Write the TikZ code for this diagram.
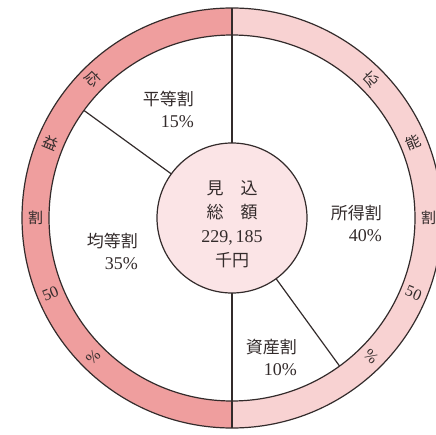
\documentclass[tikz,border=0pt]{standalone}
\usepackage{fontspec}
\usetikzlibrary{calc}
\setmainfont{Liberation Serif}
\newfontfamily\jp{Noto Sans CJK JP}
\newcommand\bignum[1]{{\fontsize{18}{22}\selectfont #1}}
\definecolor{ringL}{HTML}{EF9E9E}
\definecolor{ringR}{HTML}{F8D2D2}
\definecolor{core}{HTML}{FBE4E6}
\definecolor{ink}{HTML}{332B2B}
\begin{document}
\begin{tikzpicture}[x=1pt,y=1pt,
  disc/.style={circle,inner sep=0pt,outer sep=0pt},
  edge/.style={draw=ink,line width=1.2pt},
  lbl/.style={text=ink,font=\fontsize{17}{22}\selectfont,align=right,inner sep=0pt},
  ctr/.style={text=ink,font=\fontsize{17}{24}\selectfont,align=center,inner sep=0pt},
  ringtxt/.style={text=ink,font=\fontsize{15}{15}\selectfont,inner sep=0pt},
  ringnum/.style={text=ink,font=\fontsize{16}{16}\selectfont,inner sep=0pt}]
\useasboundingbox (0,0) rectangle (436,434);
\coordinate (O) at (232,216);
% ring halves
\fill[ringL] (232,426) arc[start angle=90,end angle=270,radius=210]
  -- (232,33) arc[start angle=270,end angle=90,radius=183] -- cycle;
\fill[ringR] (232,426) arc[start angle=90,end angle=-90,radius=210]
  -- (232,33) arc[start angle=-90,end angle=90,radius=183] -- cycle;
\node[disc,edge,minimum size=420pt] (outer) at (O) {};
\node[disc,edge,minimum size=366pt] (inner) at (O) {};
\node[disc,edge,fill=core,minimum size=150pt] (core) at (O) {};
% dividers
\draw[edge] (core.90) -- (outer.90);
\draw[edge] (core.270) -- (outer.270);
\draw[edge] (core.144) -- (inner.144);
\draw[edge] (core.306) -- (inner.306);
% sector labels
\node[lbl,anchor=east] (heito) at (194,325) {{\jp 平等割}\\\bignum{15\%}};
\node[lbl,anchor=east] (kinto) at (138,183) {{\jp 均等割}\\\bignum{35\%}};
\node[lbl,anchor=east] (shotoku) at (382,211) {{\jp 所得割}\\\bignum{40\%}};
\node[lbl,anchor=east] (shisan) at (297,77) {{\jp 資産割}\\\bignum{10\%}};
\node[ctr] (total) at (232,210) {{\jp 見　込}\\{\jp 総　額}\\\bignum{229,\,185}\\{\jp 千円}};
% ring texts left
\node[ringtxt,rotate=-45] (l1) at ($(O)+(135:196.5)$) {\jp 応};
\node[ringtxt,rotate=-22.5] (l2) at ($(O)+(157.5:196.5)$) {\jp 益};
\node[ringtxt,rotate=0] (l3) at ($(O)+(180:196.5)$) {\jp 割};
\node[ringnum,rotate=22.5] (l4) at ($(O)+(202.5:196.5)$) {50};
\node[ringnum,rotate=45] (l5) at ($(O)+(225:196.5)$) {\%};
% ring texts right
\node[ringtxt,rotate=45] (r1) at ($(O)+(45:196.5)$) {\jp 応};
\node[ringtxt,rotate=22.5] (r2) at ($(O)+(22.5:196.5)$) {\jp 能};
\node[ringtxt,rotate=0] (r3) at ($(O)+(0:196.5)$) {\jp 割};
\node[ringnum,rotate=-22.5] (r4) at ($(O)+(-22.5:196.5)$) {50};
\node[ringnum,rotate=-45] (r5) at ($(O)+(-45:196.5)$) {\%};
\end{tikzpicture}
\end{document}
